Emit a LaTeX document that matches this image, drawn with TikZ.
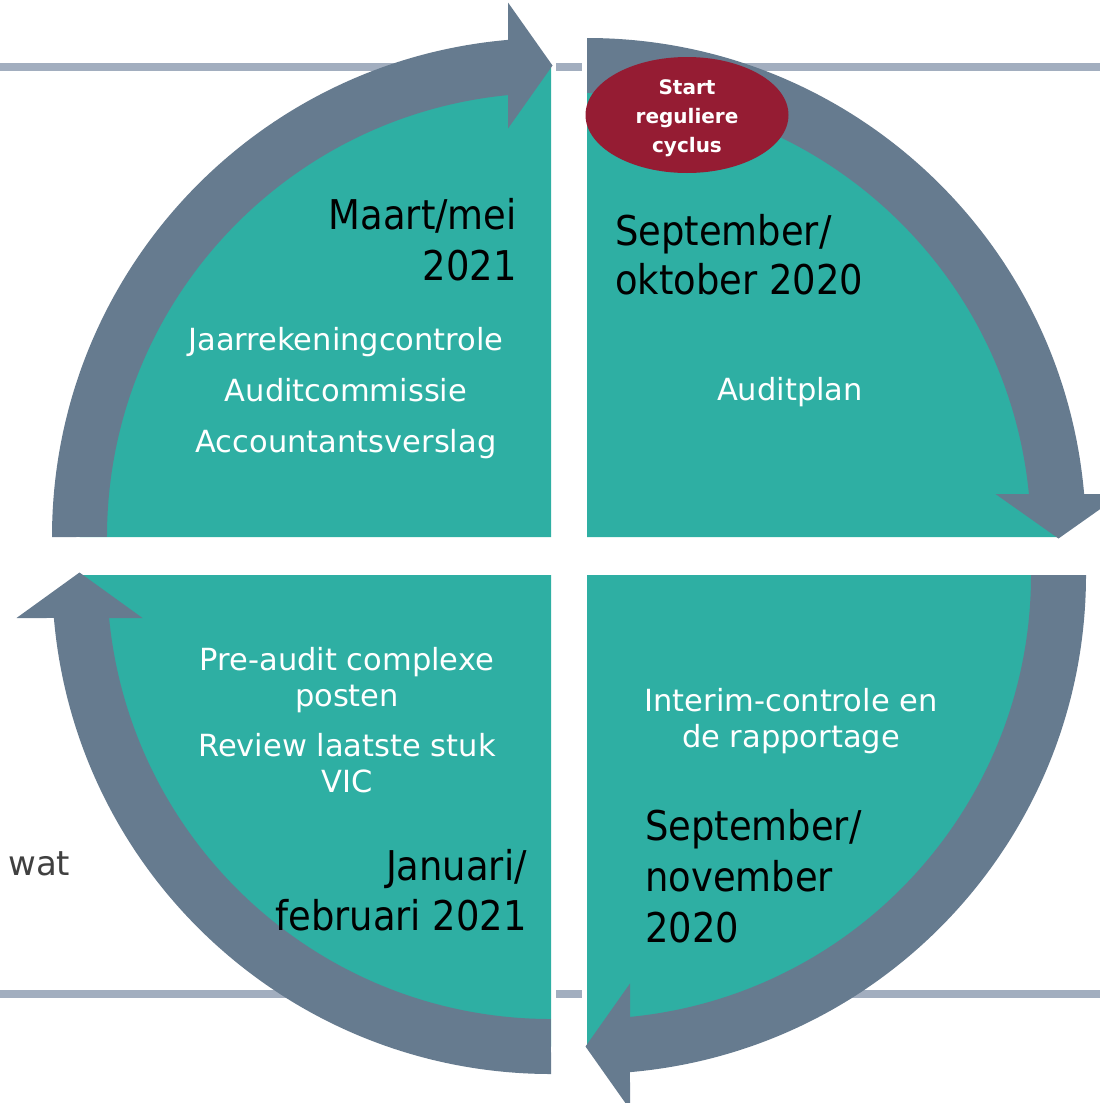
\documentclass[tikz,border=0pt]{standalone}
\usepackage{fontspec}
\setmainfont{DejaVu Sans}
\newfontfamily\datefont{DejaVu Sans}[FakeStretch=0.9]
\usetikzlibrary{shapes.geometric}
\definecolor{quadteal}{HTML}{2EAFA3}
\definecolor{arrowgray}{HTML}{667B8F}
\definecolor{linegray}{HTML}{A2AEBF}
\definecolor{startred}{HTML}{951C33}
\definecolor{watgray}{HTML}{404040}
\begin{document}
\begin{tikzpicture}[x=1pt,y=-1pt,
  quad/.style={fill=quadteal},
  cyclearrow/.style={fill=arrowgray},
  guide/.style={draw=linegray, line width=8pt},
  whitetxt/.style={text=white, font=\fontsize{30.5}{36}\selectfont, align=center, inner sep=0pt},
  datetxt/.style={text=black, font=\datefont\fontsize{41}{51}\selectfont, inner sep=0pt}]
\useasboundingbox (0,0) rectangle (1100,1103);
\clip (0,0) rectangle (1100,1103);
% guide lines
\draw[guide] (0,67) -- (551,67) (556,67) -- (582,67) (587,67) -- (1100,67);
\draw[guide] (0,994) -- (551,994) (556,994) -- (582,994) (587,994) -- (1100,994);
% quadrants
\fill[quad] (551,537) -- (79.5,537) arc[start angle=180, end angle=270, radius=471.5] -- cycle;
\fill[quad] (587,537) -- (587,65.5) arc[start angle=270, end angle=360, radius=471.5] -- cycle;
\fill[quad] (587,575) -- (1058.5,575) arc[start angle=0, end angle=90, radius=471.5] -- cycle;
\fill[quad] (551,575) -- (551,1046.5) arc[start angle=90, end angle=180, radius=471.5] -- cycle;
% arrows
\fill[cyclearrow] (52,537) arc[start angle=180, end angle=265.057, radius=499]
  -- (508,2.5) -- (552.5,65.5) -- (508,128.5) -- (508,95.09)
  arc[start angle=264.443, end angle=180, radius=444] -- cycle;
\fill[cyclearrow] (587,38) arc[start angle=270, end angle=355.057, radius=499]
  -- (1121.5,494) -- (1058.5,538.5) -- (995.5,494) -- (1028.91,494)
  arc[start angle=354.443, end angle=270, radius=444] -- cycle;
\fill[cyclearrow] (1086,575) arc[start angle=0, end angle=85.057, radius=499]
  -- (630,1109.5) -- (585.5,1046.5) -- (630,983.5) -- (630,1016.91)
  arc[start angle=84.443, end angle=0, radius=444] -- cycle;
\fill[cyclearrow] (551,1074) arc[start angle=90, end angle=175.057, radius=499]
  -- (16.5,618) -- (79.5,572.5) -- (142.5,618) -- (109.09,618)
  arc[start angle=174.443, end angle=90, radius=444] -- cycle;
% start ellipse
\node[ellipse, fill=startred, minimum width=203pt, minimum height=116pt, inner sep=0pt] (startell) at (687,115) {};
\node[text=white, font=\bfseries\fontsize{20}{29}\selectfont, align=center, inner sep=0pt, anchor=base] (starttxt) at (687,152) {Start\\reguliere\\cyclus};
% texts
\node[datetxt, align=right, anchor=base east] (tldate) at (517,280) {Maart/mei\\2021};
\node[whitetxt, font=\fontsize{30.5}{51}\selectfont, anchor=base] (tltxt) at (346,452) {Jaarrekeningcontrole\\Auditcommissie\\Accountantsverslag};
\node[datetxt, font=\datefont\fontsize{41}{49}\selectfont, align=left, anchor=base west] (trdate) at (615,294) {September/\\oktober 2020};
\node[whitetxt, anchor=base] (trtxt) at (790,400) {Auditplan};
\node[whitetxt, anchor=base] (brtxt) at (791,747) {Interim-controle en\\de rapportage};
\node[datetxt, align=left, anchor=base west] (brdate) at (645,942) {September/\\november\\2020};
\node[whitetxt, anchor=base] (bltxt) at (347,792) {Pre-audit complexe\\posten\\[14pt]Review laatste stuk\\VIC};
\node[datetxt, font=\datefont\fontsize{41}{50}\selectfont, align=right, anchor=base east] (bldate) at (527,930) {Januari/\\februari 2021};
\node[text=watgray, font=\fontsize{34}{40}\selectfont, anchor=base west, inner sep=0pt] (wat) at (8,875) {wat};
\end{tikzpicture}
\end{document}
